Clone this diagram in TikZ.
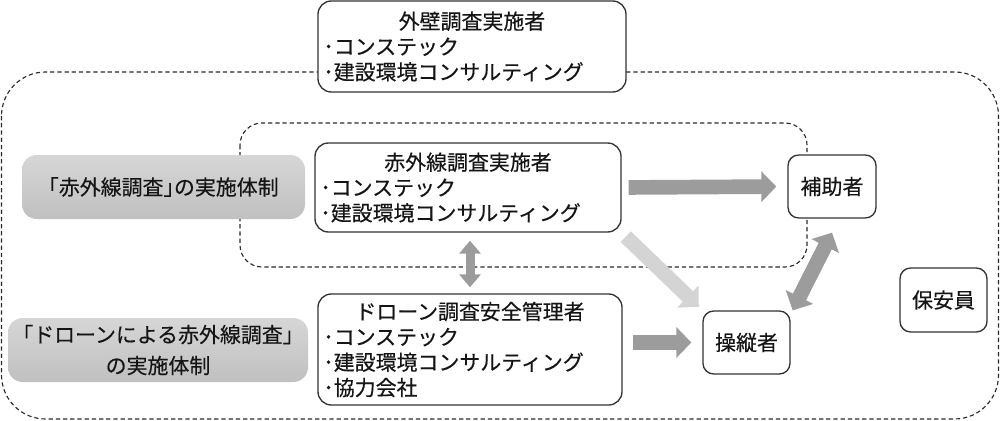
\documentclass[tikz,border=0pt]{standalone}
\usepackage{fontspec}
\setmainfont{Noto Sans CJK JP}[FakeBold=0.35]
\usetikzlibrary{arrows.meta}
\newcommand\halfbr[1]{{\addfontfeature{RawFeature=+halt}#1}}
\definecolor{ink}{HTML}{151515}
\definecolor{frame}{HTML}{333333}
\definecolor{dashc}{HTML}{2A2A2A}
\definecolor{gtop}{HTML}{D6D6D6}
\definecolor{gbot}{HTML}{C0C0C0}
\definecolor{arr}{HTML}{9C9C9C}
\definecolor{arrlight}{HTML}{D4D4D4}
\tikzset{
  every node/.style={text=ink, font=\fontsize{15.7pt}{19pt}\selectfont},
  dashframe/.style={draw=dashc, line width=0.85pt, dash pattern=on 3.2pt off 2.2pt},
  listbox/.style={draw=frame, line width=1pt, fill=white, rounded corners=10pt,
    inner xsep=4pt, inner ysep=0pt, align=left, text width=#1},
  smallbox/.style={draw=frame, line width=1pt, fill=white, rounded corners=8pt,
    minimum width=65.25pt, minimum height=47.25pt, inner sep=0pt},
  graybox/.style={rounded corners=11pt, top color=gtop, bottom color=gbot, draw=none,
    align=center, inner sep=0pt, minimum height=48pt},
  fatarrow/.style={draw=arr, line width=11pt, -{Triangle[length=11.25pt,width=22.5pt]}},
  twinarrow/.style={draw=arr, line width=11pt,
    {Triangle[length=11.25pt,width=22.5pt]}-{Triangle[length=11.25pt,width=22.5pt]}},
  slimtwin/.style={draw=arr, line width=6.75pt,
    {Triangle[length=9.75pt,width=15.75pt]}-{Triangle[length=9.75pt,width=15.75pt]}}
}
\begin{document}
\begin{tikzpicture}[x=0.75pt,y=-0.75pt]
\useasboundingbox (0,0) rectangle (1000,421);
% dashed frames
\draw[dashframe, rounded corners=33pt] (1.5,72) rectangle (998.5,419);
\draw[dashframe, rounded corners=16.5pt] (240,123) rectangle (807,267);
% boxes
\node[listbox=223pt, minimum height=68.25pt] (gaiheki) at (472,46.5)
  {\hfill 外壁調査実施者\hfill\null\\･コンステック\\･建設環境コンサルティング};
\node[listbox=221.5pt, minimum height=66.75pt] (iri) at (468,187.5)
  {\hfill 赤外線調査実施者\hfill\null\\･コンステック\\･建設環境コンサルティング};
\node[listbox=220pt, minimum height=83.25pt] (drone) at (470,349.5)
  {\hfill ドローン調査安全管理者\hfill\null\\･コンステック\\･建設環境コンサルティング\\･協力会社};
\node[smallbox, minimum width=66pt] (hojo) at (832,186.5) {補助者};
\node[smallbox] (soju) at (746.5,342.5) {操縦者};
\node[smallbox, minimum height=48pt] (hoan) at (943.5,300) {保安員};
\node[graybox, minimum width=212.25pt] (gray1) at (163.5,187)
  {\halfbr{「}赤外線調査\halfbr{」}の実施体制};
\node[graybox, minimum width=225pt] (gray2) at (158,350)
  {\halfbr{「}ドローンによる赤外線調査\halfbr{」}\\[4.25pt]の実施体制};
% arrows
\draw[fatarrow, shorten <=5.25pt, shorten >=8.25pt] (iri.east) -- (hojo.west);
\draw[fatarrow, shorten <=7.5pt, shorten >=8.25pt] (drone.east |- soju.west) -- (soju.west);
\draw[fatarrow, draw=arrlight, shorten <=4.3pt, shorten >=3.7pt] (iri.south east) -- (soju.north west);
\draw[twinarrow] ([xshift=1.5pt]soju.north east) -- ([yshift=-10.5pt]hojo.south);
\draw[slimtwin, shorten <=6pt, shorten >=4.5pt] ([xshift=1.5pt]iri.south) -- ([xshift=1.5pt]iri.south |- drone.north);
\end{tikzpicture}
\end{document}
